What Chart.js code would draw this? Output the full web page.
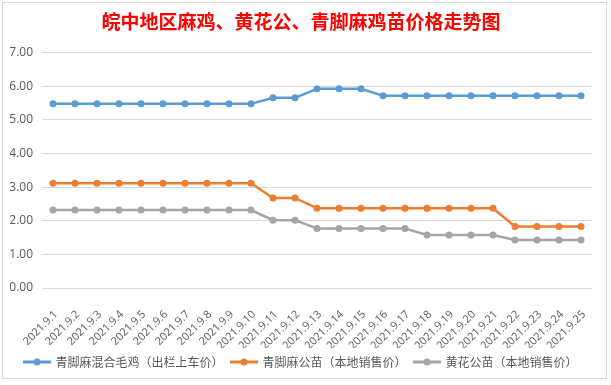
<!DOCTYPE html>
<html>
<head>
<meta charset="utf-8">
<script src="https://cdn.jsdelivr.net/npm/chart.js@4/dist/chart.umd.min.js"></script>
<style>
    html, body { margin: 0; padding: 0; background: #fff; }
    #contenedor { width: 611px; height: 385px; position: relative; }
</style>
</head>
<body>
<div id="contenedor"><canvas id="graficoPrecios"></canvas></div>
<script>
// Datos
const fechas = [
    '2021.9.1', '2021.9.2', '2021.9.3', '2021.9.4', '2021.9.5', '2021.9.6', '2021.9.7',
    '2021.9.8', '2021.9.9', '2021.9.10', '2021.9.11', '2021.9.12', '2021.9.13', '2021.9.14',
    '2021.9.15', '2021.9.16', '2021.9.17', '2021.9.18', '2021.9.19', '2021.9.20', '2021.9.21',
    '2021.9.22', '2021.9.23', '2021.9.24', '2021.9.25'
];
const maojiHunhe = [5.48, 5.48, 5.48, 5.48, 5.48, 5.48, 5.48, 5.48, 5.48, 5.48, 5.66, 5.66, 5.93,
    5.93, 5.93, 5.72, 5.72, 5.72, 5.72, 5.72, 5.72, 5.72, 5.72, 5.72, 5.72];
const qingjiaoGongmiao = [3.12, 3.12, 3.12, 3.12, 3.12, 3.12, 3.12, 3.12, 3.12, 3.12, 2.68, 2.68, 2.37,
    2.37, 2.37, 2.37, 2.37, 2.37, 2.37, 2.37, 2.37, 1.83, 1.83, 1.83, 1.83];
const huanghuaGongmiao = [2.32, 2.32, 2.32, 2.32, 2.32, 2.32, 2.32, 2.32, 2.32, 2.32, 2.02, 2.02, 1.77,
    1.77, 1.77, 1.77, 1.77, 1.58, 1.58, 1.58, 1.58, 1.43, 1.43, 1.43, 1.43];
const nombresSeries = ['青脚麻混合毛鸡（出栏上车价）', '青脚麻公苗（本地销售价）', '黄花公苗（本地销售价）'];
const colores = ['#5B9BD5', '#ED7D31', '#A5A5A5'];
const titulo = '皖中地区麻鸡、黄花公、青脚麻鸡苗价格走势图';

const fuente = "'Open Sans', 'Noto Sans CJK SC', sans-serif";

// Marcador de leyenda estilo Excel: línea con punto
function marcadorLeyenda(color) {
    const c = document.createElement('canvas');
    c.width = 28; c.height = 8;
    const g = c.getContext('2d');
    g.strokeStyle = color; g.lineWidth = 3;
    g.beginPath(); g.moveTo(0, 4); g.lineTo(28, 4); g.stroke();
    g.fillStyle = color;
    g.beginPath(); g.arc(14, 4, 3.5, 0, Math.PI * 2); g.fill();
    return c;
}

// Fondo blanco y marco del gráfico
const marco = {
    id: 'marco',
    beforeDraw(chart) {
        const ctx = chart.ctx;
        ctx.save();
        ctx.fillStyle = '#fff';
        ctx.fillRect(0, 0, chart.width, chart.height);
        ctx.strokeStyle = '#D9D9D9';
        ctx.lineWidth = 1;
        ctx.strokeRect(2.5, 2.5, 604, 376);
        ctx.restore();
    }
};

const series = [maojiHunhe, qingjiaoGongmiao, huanghuaGongmiao];

new Chart(document.getElementById('graficoPrecios').getContext('2d'), {
    type: 'line',
    data: {
        labels: fechas,
        datasets: series.map((valores, i) => ({
            label: nombresSeries[i],
            data: valores,
            borderColor: colores[i],
            backgroundColor: colores[i],
            borderWidth: 2.5,
            pointRadius: 3.5,
            pointBorderWidth: 0,
            pointBackgroundColor: colores[i],
            pointStyle: 'circle',
            tension: 0
        }))
    },
    options: {
        responsive: true,
        maintainAspectRatio: false,
        animation: false,
        layout: { padding: { left: 10, right: 19, top: 0, bottom: 7 } },
        plugins: {
            title: {
                display: true,
                text: titulo,
                color: '#FF0000',
                font: { family: "'Noto Sans CJK SC', sans-serif", size: 19, weight: 'bold' },
                padding: { top: 10, bottom: 20 }
            },
            legend: {
                position: 'bottom',
                labels: {
                    usePointStyle: true,
                    pointStyleWidth: 25,
                    color: '#595959',
                    padding: 8,
                    font: { family: "'Noto Sans CJK SC', sans-serif", size: 12 },
                    generateLabels: chart => chart.data.datasets.map((d, i) => ({
                        text: d.label,
                        fillStyle: colores[i],
                        strokeStyle: colores[i],
                        lineWidth: 0,
                        pointStyle: marcadorLeyenda(colores[i]),
                        fontColor: '#595959',
                        datasetIndex: i,
                        hidden: false
                    }))
                }
            },
            tooltip: { enabled: false }
        },
        scales: {
            x: {
                offset: true,
                grid: { display: false },
                border: { display: false },
                ticks: {
                    autoSkip: false,
                    maxRotation: 45,
                    minRotation: 45,
                    color: '#595959',
                    padding: 12,
                    labelOffset: 3,
                    font: { family: fuente, size: 11 }
                },
                afterFit: escala => { escala.height = 60; }
            },
            y: {
                min: 0,
                max: 7,
                grid: { color: '#D9D9D9', drawTicks: false },
                border: { display: false },
                ticks: {
                    stepSize: 1,
                    padding: 9,
                    color: '#595959',
                    font: { family: fuente, size: 12 },
                    callback: v => v.toFixed(2)
                },
                afterFit: escala => { escala.width = 32; }
            }
        }
    },
    plugins: [marco]
});
</script>
</body>
</html>
